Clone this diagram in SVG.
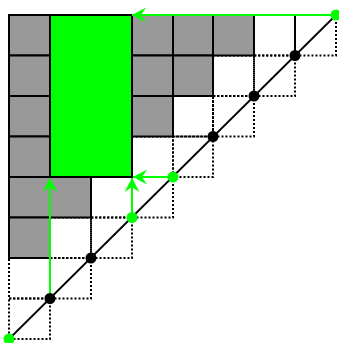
<svg xmlns="http://www.w3.org/2000/svg" width="339" height="343" viewBox="0 0 339 343">
<style>
.dot-cell{fill:none;stroke:#000;stroke-width:2;stroke-dasharray:2 2}
.gray{fill:#999999;stroke:#000;stroke-width:2}
.green-box{fill:#00ff00;stroke:#000;stroke-width:2}
.diag{stroke:#000;stroke-width:1.8;fill:none}
.arrow{stroke:#00ff00;stroke-width:2;fill:none;marker-end:url(#ah)}
.bdot{fill:#000}
.gdot{fill:#00ff00}
</style>
<defs>
<marker id="ah" markerUnits="userSpaceOnUse" markerWidth="16" markerHeight="16" viewBox="-14 -8 16 16" refX="0" refY="0" orient="auto">
<path d="M0,0 L-14,-7.5 L-9,0 L-14,7.5 Z" fill="#00ff00"/>
</marker>
</defs>
<rect width="339" height="343" fill="#fff"/>
<g id="dotted-cells">
<rect class="dot-cell" x="254" y="15" width="41" height="40.5"/>
<rect class="dot-cell" x="295" y="15" width="41" height="40.5"/>
<rect class="dot-cell" x="213" y="55.5" width="41" height="40.5"/>
<rect class="dot-cell" x="254" y="55.5" width="41" height="40.5"/>
<rect class="dot-cell" x="173" y="96" width="40" height="40.5"/>
<rect class="dot-cell" x="213" y="96" width="41" height="40.5"/>
<rect class="dot-cell" x="132" y="136.5" width="41" height="40.5"/>
<rect class="dot-cell" x="173" y="136.5" width="40" height="40.5"/>
<rect class="dot-cell" x="91" y="177" width="41" height="40.5"/>
<rect class="dot-cell" x="132" y="177" width="41" height="40.5"/>
<rect class="dot-cell" x="50" y="217.5" width="41" height="40.5"/>
<rect class="dot-cell" x="91" y="217.5" width="41" height="40.5"/>
<rect class="dot-cell" x="9" y="258" width="41" height="40.5"/>
<rect class="dot-cell" x="50" y="258" width="41" height="40.5"/>
<rect class="dot-cell" x="9" y="298.5" width="41" height="40.5"/>
</g>
<g id="gray-cells">
<rect class="gray" x="9" y="15" width="41" height="40.5"/>
<rect class="gray" x="132" y="15" width="41" height="40.5"/>
<rect class="gray" x="173" y="15" width="40" height="40.5"/>
<rect class="gray" x="213" y="15" width="41" height="40.5"/>
<rect class="gray" x="9" y="55.5" width="41" height="40.5"/>
<rect class="gray" x="132" y="55.5" width="41" height="40.5"/>
<rect class="gray" x="173" y="55.5" width="40" height="40.5"/>
<rect class="gray" x="9" y="96" width="41" height="40.5"/>
<rect class="gray" x="132" y="96" width="41" height="40.5"/>
<rect class="gray" x="9" y="136.5" width="41" height="40.5"/>
<rect class="gray" x="9" y="177" width="41" height="40.5"/>
<rect class="gray" x="50" y="177" width="41" height="40.5"/>
<rect class="gray" x="9" y="217.5" width="41" height="40.5"/>
</g>
<g id="green-block">
<rect class="green-box" x="50" y="15" width="82" height="162"/>
</g>
<g id="connectors">
<line class="diag" x1="9" y1="339" x2="336" y2="15"/>
<line class="arrow" x1="336" y1="15" x2="132" y2="15"/>
<line class="arrow" x1="50" y1="298.5" x2="50" y2="178"/>
<line class="arrow" x1="132" y1="217.5" x2="132" y2="178"/>
<line class="arrow" x1="173" y1="177" x2="133" y2="177"/>
</g>
<g id="points">
<circle id="p0" class="gdot" cx="9" cy="339" r="5.5"/>
<circle id="p1" class="bdot" cx="50" cy="298.5" r="5.5"/>
<circle id="p2" class="bdot" cx="91" cy="258" r="5.5"/>
<circle id="p3" class="gdot" cx="132" cy="217.5" r="5.5"/>
<circle id="p4" class="gdot" cx="173" cy="177" r="5.5"/>
<circle id="p5" class="bdot" cx="213" cy="136.5" r="5.5"/>
<circle id="p6" class="bdot" cx="254" cy="96" r="5.5"/>
<circle id="p7" class="bdot" cx="295" cy="55.5" r="5.5"/>
<circle id="p8" class="gdot" cx="336" cy="15" r="5.5"/>
</g>
</svg>
